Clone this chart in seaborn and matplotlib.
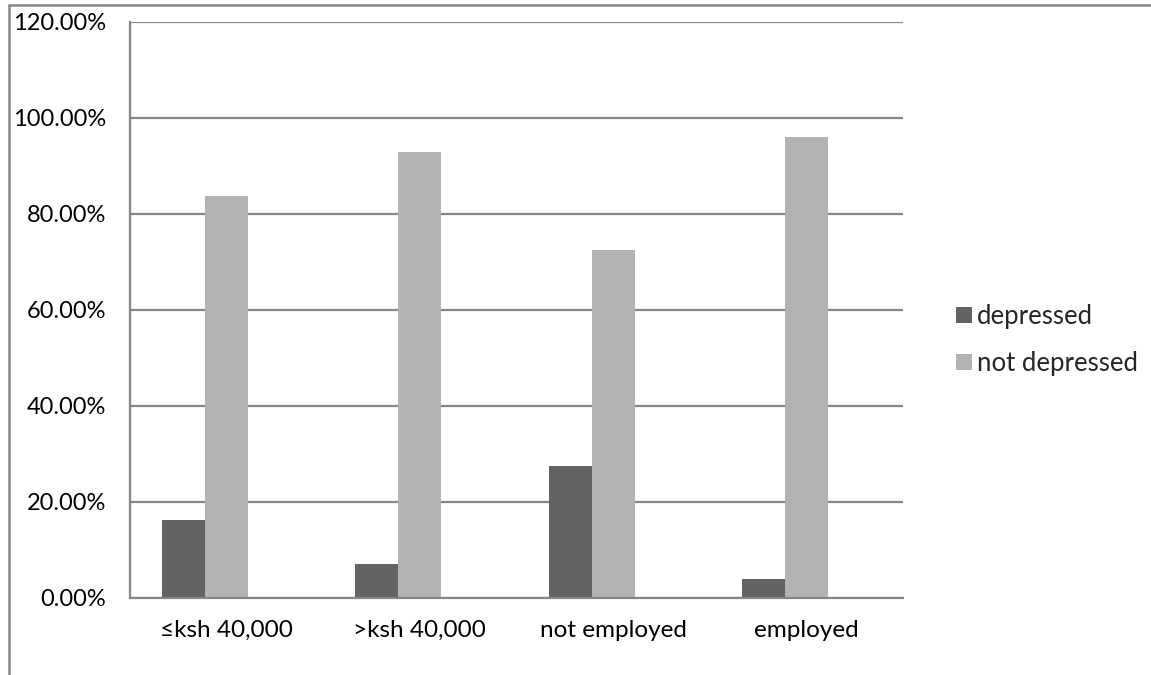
import matplotlib
matplotlib.use("Agg")
import matplotlib.pyplot as plt
import matplotlib.ticker as mticker
from matplotlib.patches import Patch
from matplotlib.lines import Line2D
import seaborn as sns
import pandas as pd

categories = ["≤ksh 40,000", ">ksh 40,000", "not employed", "employed"]
depressed = [0.163, 0.071, 0.274, 0.039]
not_depressed = [0.837, 0.929, 0.726, 0.961]
series_names = ["depressed", "not depressed"]
y_ticks = [0.0, 0.2, 0.4, 0.6, 0.8, 1.0, 1.2]

colors = {"depressed": "#636363", "not depressed": "#b3b3b3", " ": "#ffffff"}

df = pd.DataFrame({
    "category": categories * 2,
    "series": [series_names[0]] * 4 + [series_names[1]] * 4,
    "value": depressed + not_depressed,
})

sns.set_theme(style="white")
plt.rcParams["font.family"] = ["Lato", "DejaVu Sans"]

W, H = 1151, 675
fig = plt.figure(figsize=(W / 100, H / 100), dpi=100)
ax = fig.add_axes([130 / W, 1 - 598 / H, 773 / W, 576 / H])

sns.barplot(data=df, x="category", y="value", hue="series",
            hue_order=series_names + [" "], order=categories,
            palette=colors, width=0.667, dodge=True, ax=ax,
            legend=False, saturation=1, edgecolor="none", linewidth=0)

ax.set_xlim(-0.5, len(categories) - 0.5)
ax.set_ylim(0, 1.2)
ax.set_yticks(y_ticks)
ax.yaxis.set_major_formatter(mticker.FuncFormatter(lambda v, p: f"{v*100:.2f}%"))
ax.set_xlabel("")
ax.set_ylabel("")

grid_c = "#868686"
ax.set_axisbelow(True)
ax.yaxis.grid(True, color=grid_c, linewidth=1.6)
ax.xaxis.grid(False)
for s in ["top", "right"]:
    ax.spines[s].set_visible(False)
for s in ["left", "bottom"]:
    ax.spines[s].set_color(grid_c)
    ax.spines[s].set_linewidth(1.6)

ax.set_xticks([i - 0.5 for i in range(len(categories) + 1)], minor=True)
ax.tick_params(axis="x", which="major", length=0, pad=16, labelsize=17.5, colors="black")
ax.tick_params(axis="x", which="minor", length=6, width=1.6, color=grid_c, direction="out")
ax.tick_params(axis="y", which="major", length=6, width=1.6, color=grid_c,
               direction="out", pad=11, labelsize=17, labelcolor="black")

handles = [Patch(facecolor=colors[n], edgecolor="none", label=n) for n in series_names]
fig.legend(handles=handles, loc="center left", bbox_to_anchor=(956 / W, 1 - 340 / H),
           frameon=False, fontsize=18.5, handlelength=0.62, handleheight=0.62,
           handletextpad=0.2, labelspacing=0.85, borderaxespad=0, borderpad=0)

# outer chart border (top and left edges visible)
fig.add_artist(Line2D([9 / W, 9 / W], [0, 1 - 5 / H], transform=fig.transFigure,
                      color=grid_c, linewidth=1.8))
fig.add_artist(Line2D([9 / W, 1], [1 - 5 / H, 1 - 5 / H], transform=fig.transFigure,
                      color=grid_c, linewidth=1.8))

fig.savefig("out.png", dpi=100)
